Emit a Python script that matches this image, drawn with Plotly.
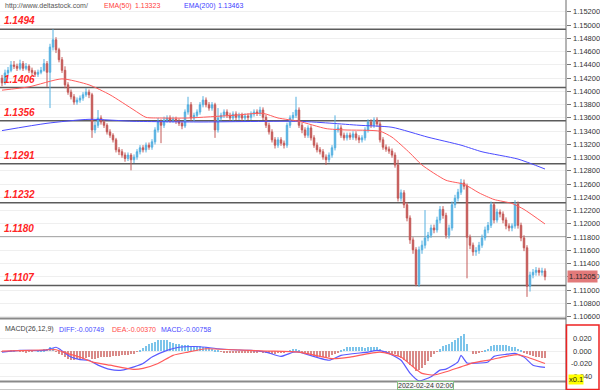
import plotly.graph_objects as go

W, H = 600, 390
def px_x(p): return p / W
def px_y(p): return 1 - p / H

# ---------------- price candles (EURUSD-like, hourly) ----------------
opens = [1.1420, 1.1413, 1.1428, 1.1432, 1.1440, 1.1438, 1.1435, 1.1442, 1.1435, 1.1438,
1.1432, 1.1429, 1.1426, 1.1429, 1.1432, 1.1442, 1.1429, 1.1467, 1.1478, 1.1463,
1.1448, 1.1432, 1.1410, 1.1399, 1.1392, 1.1384, 1.1387, 1.1390, 1.1395, 1.1399,
1.1395, 1.1342, 1.1349, 1.1360, 1.1354, 1.1349, 1.1339, 1.1334, 1.1327, 1.1312,
1.1309, 1.1304, 1.1299, 1.1304, 1.1297, 1.1301, 1.1309, 1.1315, 1.1312, 1.1319,
1.1316, 1.1324, 1.1342, 1.1354, 1.1349, 1.1357, 1.1360, 1.1357, 1.1358, 1.1355,
1.1352, 1.1348, 1.1369, 1.1380, 1.1360, 1.1364, 1.1369, 1.1380, 1.1387, 1.1380,
1.1375, 1.1380, 1.1342, 1.1360, 1.1364, 1.1369, 1.1364, 1.1360, 1.1366, 1.1361,
1.1364, 1.1360, 1.1363, 1.1361, 1.1366, 1.1369, 1.1367, 1.1372, 1.1361, 1.1349,
1.1339, 1.1327, 1.1319, 1.1327, 1.1322, 1.1319, 1.1349, 1.1360, 1.1364, 1.1372,
1.1349, 1.1342, 1.1334, 1.1345, 1.1330, 1.1319, 1.1312, 1.1309, 1.1301, 1.1297,
1.1304, 1.1315, 1.1342, 1.1345, 1.1334, 1.1330, 1.1334, 1.1331, 1.1336, 1.1330,
1.1327, 1.1330, 1.1342, 1.1354, 1.1349, 1.1357, 1.1351, 1.1327, 1.1316, 1.1313,
1.1310, 1.1304, 1.1289, 1.1239, 1.1247, 1.1229, 1.1209, 1.1176, 1.1161, 1.1109,
1.1161, 1.1168, 1.1179, 1.1183, 1.1194, 1.1191, 1.1206, 1.1222, 1.1213, 1.1183,
1.1194, 1.1229, 1.1239, 1.1248, 1.1262, 1.1257, 1.1180, 1.1168, 1.1158, 1.1160,
1.1168, 1.1179, 1.1191, 1.1198, 1.1229, 1.1206, 1.1218, 1.1215, 1.1206, 1.1197,
1.1194, 1.1197, 1.1230, 1.1198, 1.1179, 1.1164, 1.1106, 1.1123, 1.1127, 1.1130,
1.1127, 1.1129]

highs = [1.1425, 1.1433, 1.1437, 1.1446, 1.1446, 1.1442, 1.1448, 1.1446, 1.1443, 1.1441,
1.1436, 1.1432, 1.1433, 1.1437, 1.1449, 1.1446, 1.1472, 1.1494, 1.1482, 1.1466,
1.1452, 1.1438, 1.1414, 1.1403, 1.1396, 1.1391, 1.1394, 1.1399, 1.1405, 1.1403,
1.1398, 1.1354, 1.1372, 1.1364, 1.1358, 1.1352, 1.1343, 1.1337, 1.1330, 1.1316,
1.1313, 1.1308, 1.1308, 1.1307, 1.1305, 1.1313, 1.1319, 1.1319, 1.1323, 1.1323,
1.1328, 1.1346, 1.1360, 1.1358, 1.1362, 1.1364, 1.1364, 1.1362, 1.1362, 1.1359,
1.1356, 1.1373, 1.1392, 1.1384, 1.1368, 1.1373, 1.1384, 1.1393, 1.1391, 1.1384,
1.1384, 1.1383, 1.1375, 1.1368, 1.1373, 1.1373, 1.1368, 1.1370, 1.1370, 1.1368,
1.1368, 1.1367, 1.1367, 1.1370, 1.1373, 1.1373, 1.1377, 1.1376, 1.1365, 1.1353,
1.1343, 1.1331, 1.1331, 1.1331, 1.1326, 1.1353, 1.1364, 1.1369, 1.1392, 1.1376,
1.1353, 1.1346, 1.1349, 1.1349, 1.1334, 1.1323, 1.1316, 1.1313, 1.1305, 1.1308,
1.1319, 1.1364, 1.1350, 1.1349, 1.1338, 1.1338, 1.1338, 1.1340, 1.1340, 1.1334,
1.1334, 1.1346, 1.1358, 1.1358, 1.1361, 1.1361, 1.1355, 1.1331, 1.1320, 1.1317,
1.1314, 1.1308, 1.1297, 1.1252, 1.1251, 1.1233, 1.1213, 1.1180, 1.1165, 1.1166,
1.1175, 1.1221, 1.1188, 1.1199, 1.1199, 1.1211, 1.1227, 1.1227, 1.1217, 1.1199,
1.1234, 1.1244, 1.1253, 1.1268, 1.1267, 1.1261, 1.1184, 1.1172, 1.1165, 1.1173,
1.1184, 1.1196, 1.1203, 1.1234, 1.1233, 1.1223, 1.1222, 1.1219, 1.1210, 1.1201,
1.1201, 1.1236, 1.1234, 1.1202, 1.1183, 1.1168, 1.1128, 1.1132, 1.1135, 1.1134,
1.1134, 1.1133]

lows = [1.1408, 1.1410, 1.1424, 1.1429, 1.1434, 1.1431, 1.1432, 1.1431, 1.1432, 1.1428,
1.1425, 1.1422, 1.1422, 1.1426, 1.1430, 1.1407, 1.1375, 1.1462, 1.1458, 1.1444,
1.1428, 1.1405, 1.1395, 1.1388, 1.1380, 1.1380, 1.1383, 1.1386, 1.1392, 1.1390,
1.1330, 1.1337, 1.1345, 1.1350, 1.1345, 1.1335, 1.1330, 1.1323, 1.1308, 1.1304,
1.1300, 1.1294, 1.1295, 1.1281, 1.1292, 1.1297, 1.1305, 1.1308, 1.1308, 1.1312,
1.1312, 1.1320, 1.1338, 1.1322, 1.1345, 1.1353, 1.1353, 1.1353, 1.1351, 1.1348,
1.1343, 1.1345, 1.1365, 1.1356, 1.1355, 1.1360, 1.1365, 1.1376, 1.1376, 1.1371,
1.1371, 1.1330, 1.1338, 1.1356, 1.1360, 1.1360, 1.1356, 1.1356, 1.1357, 1.1357,
1.1356, 1.1356, 1.1357, 1.1357, 1.1362, 1.1363, 1.1363, 1.1357, 1.1345, 1.1335,
1.1323, 1.1314, 1.1315, 1.1318, 1.1314, 1.1315, 1.1345, 1.1356, 1.1360, 1.1345,
1.1337, 1.1330, 1.1330, 1.1326, 1.1315, 1.1308, 1.1305, 1.1297, 1.1289, 1.1293,
1.1300, 1.1311, 1.1338, 1.1330, 1.1326, 1.1326, 1.1327, 1.1327, 1.1326, 1.1322,
1.1323, 1.1326, 1.1338, 1.1345, 1.1345, 1.1347, 1.1323, 1.1312, 1.1309, 1.1306,
1.1300, 1.1285, 1.1234, 1.1234, 1.1224, 1.1204, 1.1170, 1.1155, 1.1106, 1.1105,
1.1155, 1.1163, 1.1174, 1.1179, 1.1186, 1.1187, 1.1201, 1.1208, 1.1178, 1.1178,
1.1190, 1.1224, 1.1234, 1.1244, 1.1252, 1.1118, 1.1162, 1.1152, 1.1152, 1.1155,
1.1164, 1.1175, 1.1186, 1.1194, 1.1201, 1.1202, 1.1210, 1.1201, 1.1192, 1.1189,
1.1189, 1.1193, 1.1193, 1.1174, 1.1159, 1.1090, 1.1098, 1.1118, 1.1122, 1.1122,
1.1122, 1.1115]

closes = [1.1413, 1.1428, 1.1432, 1.1440, 1.1438, 1.1435, 1.1442, 1.1435, 1.1438, 1.1432,
1.1429, 1.1426, 1.1429, 1.1432, 1.1442, 1.1429, 1.1467, 1.1478, 1.1463, 1.1448,
1.1432, 1.1410, 1.1399, 1.1392, 1.1384, 1.1387, 1.1390, 1.1395, 1.1399, 1.1395,
1.1342, 1.1349, 1.1360, 1.1354, 1.1349, 1.1339, 1.1334, 1.1327, 1.1312, 1.1309,
1.1304, 1.1299, 1.1304, 1.1297, 1.1301, 1.1309, 1.1315, 1.1312, 1.1319, 1.1316,
1.1324, 1.1342, 1.1354, 1.1349, 1.1357, 1.1360, 1.1357, 1.1358, 1.1355, 1.1352,
1.1348, 1.1369, 1.1380, 1.1360, 1.1364, 1.1369, 1.1380, 1.1387, 1.1380, 1.1375,
1.1380, 1.1342, 1.1360, 1.1364, 1.1369, 1.1364, 1.1360, 1.1366, 1.1361, 1.1364,
1.1360, 1.1363, 1.1361, 1.1366, 1.1369, 1.1367, 1.1372, 1.1361, 1.1349, 1.1339,
1.1327, 1.1319, 1.1327, 1.1322, 1.1319, 1.1349, 1.1360, 1.1364, 1.1372, 1.1349,
1.1342, 1.1334, 1.1345, 1.1330, 1.1319, 1.1312, 1.1309, 1.1301, 1.1297, 1.1304,
1.1315, 1.1342, 1.1345, 1.1334, 1.1330, 1.1334, 1.1331, 1.1336, 1.1330, 1.1327,
1.1330, 1.1342, 1.1354, 1.1349, 1.1357, 1.1351, 1.1327, 1.1316, 1.1313, 1.1310,
1.1304, 1.1289, 1.1239, 1.1247, 1.1229, 1.1209, 1.1176, 1.1161, 1.1109, 1.1161,
1.1168, 1.1179, 1.1183, 1.1194, 1.1191, 1.1206, 1.1222, 1.1213, 1.1183, 1.1194,
1.1229, 1.1239, 1.1248, 1.1262, 1.1257, 1.1180, 1.1168, 1.1158, 1.1160, 1.1168,
1.1179, 1.1191, 1.1198, 1.1229, 1.1206, 1.1218, 1.1215, 1.1206, 1.1197, 1.1194,
1.1197, 1.1230, 1.1198, 1.1179, 1.1164, 1.1106, 1.1123, 1.1127, 1.1130, 1.1127,
1.1129, 1.11205]

bar_index = list(range(len(closes)))

# ---------------- moving averages ----------------
ema50_idx = [0, 9, 20, 29, 36, 44, 48, 53, 62, 77, 87, 92, 99, 108, 114, 126, 130,
             136, 140, 148, 154, 159, 164, 170, 174, 181]
ema50_val = [1.1402, 1.1407, 1.1419, 1.1410, 1.1395, 1.1372, 1.1361, 1.1360, 1.1360,
             1.1364, 1.1367, 1.1360, 1.1355, 1.1344, 1.1342, 1.1340, 1.1331, 1.1307,
             1.1289, 1.1266, 1.1260, 1.1247, 1.1237, 1.1231, 1.1222, 1.1200]
ema200_idx = [0, 15, 29, 44, 66, 99, 110, 119, 130, 142, 153, 160, 172, 181]
ema200_val = [1.1341, 1.1352, 1.1358, 1.1355, 1.1354, 1.1355, 1.1352, 1.1349, 1.1346,
              1.1331, 1.1319, 1.1309, 1.1298, 1.1283]

# ---------------- horizontal levels ----------------
levels = [1.1494, 1.1406, 1.1356, 1.1291, 1.1232, 1.1180, 1.1107]
level_labels = ["1.1494", "1.1406", "1.1356", "1.1291", "1.1232", "1.1180", "1.1107"]

price_ticks = [1.152, 1.150, 1.148, 1.146, 1.144, 1.142, 1.140, 1.138, 1.136, 1.134,
               1.132, 1.130, 1.128, 1.126, 1.124, 1.122, 1.120, 1.118, 1.116, 1.114,
               1.112, 1.110, 1.108, 1.106]
price_tick_text = ["1.15200", "1.15000", "1.14800", "1.14600", "1.14400", "1.14200",
                   "1.14000", "1.13800", "1.13600", "1.13400", "1.13200", "1.13000",
                   "1.12800", "1.12600", "1.12400", "1.12200", "1.12000", "1.11800",
                   "1.11600", "1.11400", "1.11200", "1.11000", "1.10800", "1.10600"]
last_price = 1.11205
last_price_text = "1.11205"

# ---------------- MACD ----------------
macd_hist = [-0.001, -0.001, 0.000, 0.001, 0.001, 0.000, -0.001, -0.001, -0.002, -0.001, -0.001, 0.000, 0.001,
             0.002, 0.003, 0.004, 0.006, 0.005,
             -0.001, -0.004, -0.007, -0.010, -0.012, -0.014, -0.014, -0.013, -0.012, -0.012,
             -0.011, -0.010, -0.013, -0.012, -0.011, -0.010, -0.010, -0.009, -0.009, -0.008, -0.008, -0.008, -0.007, -0.007, -0.006, -0.005, -0.004,
             -0.001, 0.002,
             0.005, 0.008, 0.011, 0.013, 0.015, 0.017, 0.018, 0.018, 0.017, 0.015, 0.013, 0.012, 0.011, 0.010, 0.009, 0.010,
             0.008, 0.007, 0.008, 0.008, 0.007, 0.006, 0.005, 0.004, 0.002,
             0.001, -0.001, -0.002, -0.002, -0.002,
             -0.002, -0.002, -0.003, -0.002, -0.002, -0.003, -0.002, -0.002, -0.002, -0.001, -0.002, -0.003, -0.003, -0.004, -0.004, -0.003, -0.003, -0.002, -0.001,
             0.002, 0.003, 0.004, 0.002,
             -0.002, -0.004, -0.005, -0.006, -0.008, -0.009, -0.009, -0.010, -0.010, -0.009, -0.007, -0.005, -0.003,
             0.001, 0.004, 0.006, 0.006, 0.007, 0.006, 0.006, 0.006, 0.005, 0.006, 0.007, 0.007, 0.006, 0.004,
             -0.001, -0.002, -0.003, -0.004, -0.005,
             -0.008, -0.011, -0.014, -0.018, -0.022, -0.026, -0.032, -0.030, -0.027, -0.022, -0.016, -0.010,
             -0.005, -0.001, 0.003,
             0.008, 0.010, 0.012, 0.014, 0.017, 0.021, 0.024, 0.027,
             0.012, 0.000, -0.004, -0.004,
             -0.002, -0.001, 0.002, 0.004,
             0.008, 0.009, 0.010, 0.010, 0.010, 0.009, 0.008, 0.007, 0.006,
             0.004, 0.001, -0.002,
             -0.005, -0.007, -0.008, -0.009, -0.010, -0.011, -0.011]

diff_idx = [0, 6, 14, 18, 19, 23, 26, 29, 32, 36, 40, 44, 47, 50, 55, 59, 64, 68, 72, 77,
            83, 88, 93, 97, 99, 109, 113, 122, 125, 128, 133, 136, 139, 143, 146, 148, 152,
            153, 155, 158, 162, 164, 168, 171, 174, 177, 181]
diff_val = [-0.0017, 0.0010, 0.0010, 0.0060, 0.0036, -0.0096, -0.0136, -0.0147, -0.0225,
            -0.0293, -0.0304, -0.0252, -0.0199, -0.0096, 0.0010, 0.0060, 0.0072, 0.0060,
            0.0036, 0.0020, 0.0010, -0.0017, -0.0085, -0.0020, -0.0017, -0.0147, -0.0069,
            -0.0017, 0.0010, -0.0017, -0.0147, -0.0351, -0.0476, -0.0409, -0.0304, -0.0288,
            -0.0174, -0.0069, -0.0190, -0.0194, -0.0174, -0.0085, -0.0053, -0.0038, -0.0096,
            -0.0226, -0.0262]
dea_idx = [0, 16, 18, 22, 26, 30, 36, 44, 47, 52, 57, 62, 68, 77, 88, 99, 110, 116, 126,
           133, 137, 140, 144, 148, 153, 157, 163, 168, 172, 175, 178, 181]
dea_val = [0.0000, 0.0020, 0.0020, -0.0042, -0.0096, -0.0174, -0.0226, -0.0293, -0.0277,
           -0.0199, -0.0069, -0.0017, 0.0036, 0.0020, 0.0000, -0.0017, -0.0121, -0.0096,
           -0.0017, -0.0096, -0.0252, -0.0356, -0.0382, -0.0331, -0.0252, -0.0190, -0.0136,
           -0.0085, -0.0058, -0.0096, -0.0147, -0.0199]
macd_ticks = [0.02, 0.0, -0.02, -0.04]
macd_tick_text = ["0.020", "0.000", "-0.020", "-0.040"]

# ---------------- figure ----------------
FONT = "Liberation Sans, Arial, sans-serif"
X_RANGE = [-0.67, 188]
PLOT_RIGHT = 566

fig = go.Figure()

fig.add_trace(go.Candlestick(
    x=bar_index, open=opens, high=highs, low=lows, close=closes,
    increasing=dict(line=dict(color="#55b0e0", width=1), fillcolor="#5ab6e6"),
    decreasing=dict(line=dict(color="#c45a58", width=1), fillcolor="#c24f4d"),
    whiskerwidth=0, hoverinfo="skip", xaxis="x", yaxis="y"))

fig.add_trace(go.Scatter(x=ema200_idx, y=ema200_val, mode="lines",
                         line=dict(color="#4b4bff", width=1, shape="spline", smoothing=0.6),
                         hoverinfo="skip", xaxis="x", yaxis="y"))
fig.add_trace(go.Scatter(x=ema50_idx, y=ema50_val, mode="lines",
                         line=dict(color="#ff5c5c", width=1, shape="spline", smoothing=0.6),
                         hoverinfo="skip", xaxis="x", yaxis="y"))

hist_colors = ["#7cc4ea" if v >= 0 else "#d98a88" for v in macd_hist]
fig.add_trace(go.Bar(x=bar_index, y=macd_hist, marker=dict(color=hist_colors, line=dict(width=0)),
                     width=0.4, hoverinfo="skip", xaxis="x2", yaxis="y2"))
fig.add_trace(go.Scatter(x=diff_idx, y=diff_val, mode="lines",
                         line=dict(color="#5a5aff", width=1.2, shape="spline", smoothing=0.5),
                         hoverinfo="skip", xaxis="x2", yaxis="y2"))
fig.add_trace(go.Scatter(x=dea_idx, y=dea_val, mode="lines",
                         line=dict(color="#ff5a5a", width=1.2, shape="spline", smoothing=0.5),
                         hoverinfo="skip", xaxis="x2", yaxis="y2"))

shapes = []
for lv in levels:
    shapes.append(dict(type="line", xref="paper", yref="y", x0=0, x1=px_x(PLOT_RIGHT),
                       y0=lv, y1=lv, line=dict(color="#5c5c5c", width=1.5), layer="below"))
# pane separators
shapes.append(dict(type="line", xref="paper", yref="paper", x0=0, x1=px_x(PLOT_RIGHT),
                   y0=px_y(318.5), y1=px_y(318.5), line=dict(color="#8a8a8a", width=2)))
shapes.append(dict(type="line", xref="paper", yref="paper", x0=0, x1=px_x(PLOT_RIGHT),
                   y0=px_y(381.5), y1=px_y(381.5), line=dict(color="#8a8a8a", width=2)))
shapes.append(dict(type="line", xref="paper", yref="paper", x0=0, x1=1,
                   y0=px_y(389.5), y1=px_y(389.5), line=dict(color="#c8c8c8", width=1)))
# axis vertical line
shapes.append(dict(type="line", xref="paper", yref="paper", x0=px_x(PLOT_RIGHT), x1=px_x(PLOT_RIGHT),
                   y0=0, y1=1, line=dict(color="#6a6a6a", width=1)))
# red box around macd axis
shapes.append(dict(type="rect", xref="paper", yref="paper", x0=px_x(566.5), x1=px_x(599),
                   y0=px_y(389.5), y1=px_y(325), line=dict(color="#ee2222", width=1.5)))

annotations = []
for lv, t in zip(levels, level_labels):
    annotations.append(dict(xref="paper", yref="y", x=px_x(2), y=lv, xanchor="left",
                            yanchor="bottom", yshift=1, showarrow=False,
                            text="<b><i>" + t + "</i></b>",
                            font=dict(family=FONT, size=10, color="#ff2525")))

# right-hand price scale labels
for v, t in zip(price_ticks, price_tick_text):
    annotations.append(dict(xref="paper", yref="y", x=px_x(570.5), y=v, xanchor="left",
                            yanchor="middle", showarrow=False, text=t,
                            font=dict(family=FONT, size=7.5, color="#333333")))
for v, t in zip(macd_ticks, macd_tick_text):
    annotations.append(dict(xref="paper", yref="y2", x=px_x(568.5 if t.startswith("-") else 570.5),
                            y=v, xanchor="left", yanchor="middle", showarrow=False, text=t,
                            font=dict(family=FONT, size=7.5, color="#333333")))

def txt(x, y, s, color, size=7, **kw):
    d = dict(xref="paper", yref="paper", x=px_x(x), y=px_y(y), xanchor="left",
             yanchor="middle", showarrow=False, text=s,
             font=dict(family=FONT, size=size, color=color))
    d.update(kw)
    annotations.append(d)

txt(3, 6, "http://www.deltastock.com/", "#555555")
txt(102, 6, "EMA(50)", "#ff4040")
txt(133, 6, "1.13323", "#ff4040")
txt(182, 6, "EMA(200)", "#4040ff")
txt(216, 6, "1.13463", "#4040ff")

txt(3, 329, "MACD(26,12,9)", "#444444")
txt(57, 329, "DIFF:-0.00749", "#4a4aff")
txt(110, 329, "DEA:-0.00370", "#ff4a4a")
txt(159, 329, "MACD:-0.00758", "#4a4aff")

# last price label on the axis
annotations.append(dict(xref="paper", yref="y", x=px_x(567), y=last_price, xanchor="left",
                        yanchor="middle", showarrow=False, text=last_price_text,
                        bgcolor="#e27a7a", borderpad=1,
                        font=dict(family=FONT, size=7.5, color="#2a2a2a")))
# crosshair date label
txt(397, 385.5, "2022-02-24 02:00", "#333333", size=7,
    bgcolor="#f7f7f7", bordercolor="#86c086", borderwidth=1, borderpad=0)
# scale factor label
txt(568, 379, "x0.1", "#222222", size=7.5, bgcolor="#ffff00", borderpad=0)

fig.update_layout(
    width=W, height=H, margin=dict(l=0, r=0, t=0, b=0),
    paper_bgcolor="white", plot_bgcolor="white", showlegend=False,
    shapes=shapes, annotations=annotations,
    xaxis=dict(domain=[0, px_x(PLOT_RIGHT)], range=X_RANGE, showticklabels=False,
               showgrid=False, zeroline=False, rangeslider=dict(visible=False),
               anchor="y", ticks=""),
    yaxis=dict(domain=[px_y(318), 1], range=[1.10581, 1.15381], side="right",
               tickvals=price_ticks, showticklabels=False, ticks="outside",
               ticklen=4, tickcolor="#777777", showgrid=True, gridcolor="#efefef",
               gridwidth=1, zeroline=False, showline=False, anchor="x"),
    xaxis2=dict(domain=[0, px_x(PLOT_RIGHT)], range=X_RANGE, showticklabels=False,
                showgrid=False, zeroline=False, anchor="y2", ticks=""),
    yaxis2=dict(domain=[px_y(381), px_y(323)], range=[-0.0478, 0.0447], side="right",
                tickvals=macd_ticks, showticklabels=False, ticks="",
                showgrid=True, gridcolor="#efefef", zeroline=False, anchor="x2"),
    bargap=0,
)

fig.write_html("out.html", config={"displayModeBar": False},
               post_script="document.body.style.margin='0';document.body.style.padding='0';")
